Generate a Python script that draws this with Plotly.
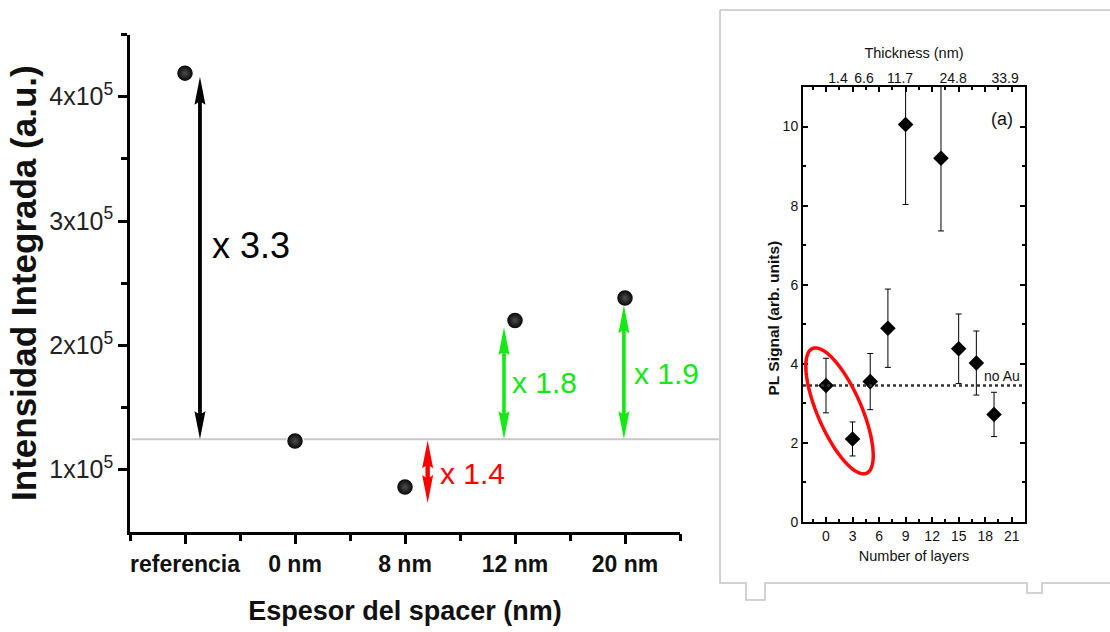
import math
import plotly.graph_objects as go

# canvas coordinates are expressed on a 1110 x 632 grid
W, H = 1110, 632
FIG_H = 640
FONT = "Liberation Sans, Arial, Helvetica, sans-serif"

# ---------------- main panel data: integrated intensity vs spacer thickness
categories = ["referencia", "0 nm", "8 nm", "12 nm", "20 nm"]
intensity = [4.19e5, 1.23e5, 0.86e5, 2.20e5, 2.38e5]
reference_level = 1.244e5
ytick_vals = [1e5, 2e5, 3e5, 4e5]
ytick_text = ["1x10<sup>5</sup>", "2x10<sup>5</sup>", "3x10<sup>5</sup>", "4x10<sup>5</sup>"]

# enhancement factors, drawn as double arrows from the reference level
ratio_text = ["x 3.3", "x 1.4", "x 1.8", "x 1.9"]
ratio_end = [4.16e5, 0.731e5, 2.148e5, 2.323e5]

# ---------------- inset data: PL signal vs number of layers
layers = [0, 3, 5, 7, 9, 13, 15, 17, 19]
pl_signal = [3.45, 2.10, 3.55, 4.90, 10.05, 9.20, 4.38, 4.02, 2.72]
pl_error = [0.69, 0.43, 0.71, 0.99, 2.02, 1.84, 0.88, 0.81, 0.56]
no_au_level = 3.45
thickness_text = ["1.4", "6.6", "11.7", "24.8", "33.9"]
thickness_at_layer = [1.36, 4.3, 8.37, 14.37, 20.25]

# ---------------- geometry (pixels from the top-left corner)
MX0, MX1, MY0, MY1 = 130, 680, 34.6, 531.7      # main plot box
IX0, IX1, IY0, IY1 = 803, 1025, 87, 522         # inset plot box
XR = [0.5, 5.5]
YR = [0.5e5, 4.5e5]
X2R = [-2.6, 22.5]
Y2R = [0, 11]


def px(x):
    return x / W


def py(y):
    return 1 - y / H


kx = (MX1 - MX0) / (XR[1] - XR[0])
ky = (MY1 - MY0) / (YR[1] - YR[0])
kx2 = (IX1 - IX0) / (X2R[1] - X2R[0])
ky2 = (IY1 - IY0) / (Y2R[1] - Y2R[0])

# arrow placement (category units) and label placement
arrow_x = [1.136, 3.206, 3.90, 4.99]
arrow_start = [reference_level, 1.236e5, reference_level, reference_level]
label_x = [1.227, 3.30, 3.955, 5.064]
label_y = [2.806e5, 0.97e5, 1.703e5, 1.776e5]
label_size = [36, 30, 30, 30]
GREEN = "#16e816"
ratio_color = ["#000000", "#ff0000", GREEN, GREEN]
shaft_hw = [1.9, 2.2, 1.8, 1.8]


def double_arrow(xc, ya, yb, shw, head_len=28, head_hw=5.5):
    top, bot = max(ya, yb), min(ya, yb)
    hl = min(head_len, (top - bot) * ky / 2) / ky
    dh, ds = head_hw / kx, shw / kx
    pts = [(xc, top), (xc + dh, top - hl), (xc + ds, top - hl * 0.92),
           (xc + ds, bot + hl * 0.92), (xc + dh, bot + hl), (xc, bot),
           (xc - dh, bot + hl), (xc - ds, bot + hl * 0.92),
           (xc - ds, top - hl * 0.92), (xc - dh, top - hl)]
    return "M" + " L".join(f"{x:.5f},{y:.1f}" for x, y in pts) + " Z"


fig = go.Figure()

shapes = []
# reference level line running across to the inset frame
shapes.append(dict(type="line", xref="paper", yref="y", x0=px(MX0 + 2), x1=px(719),
                   y0=reference_level, y1=reference_level,
                   line=dict(color="#c8c8c8", width=2), layer="below"))
for i in range(len(ratio_text)):
    shapes.append(dict(type="path", xref="x", yref="y",
                       path=double_arrow(arrow_x[i], arrow_start[i], ratio_end[i], shaft_hw[i]),
                       fillcolor=ratio_color[i], line=dict(width=0)))

fig.add_trace(go.Scatter(
    x=list(range(1, len(categories) + 1)), y=intensity, mode="markers",
    marker=dict(size=17, color="#000000", line=dict(color="white", width=1.5),
                gradient=dict(type="radial", color="#4e4e4e")),
    showlegend=False, hoverinfo="x+y"))

annotations = []
for i, t in enumerate(ratio_text):
    annotations.append(dict(x=label_x[i], y=label_y[i], xref="x", yref="y", text=t,
                            showarrow=False, xanchor="left", yanchor="middle",
                            font=dict(family=FONT, size=label_size[i], color=ratio_color[i])))

# ---------------- inset
fig.add_trace(go.Scatter(
    x=layers, y=pl_signal, xaxis="x2", yaxis="y2", mode="markers",
    marker=dict(symbol="diamond", size=12, color="#000000"),
    error_y=dict(type="data", array=pl_error, color="#000000", thickness=1, width=3),
    showlegend=False))
# empty trace so the top thickness axis is drawn
fig.add_trace(go.Scatter(x=[None], y=[None], xaxis="x3", yaxis="y2",
                         showlegend=False, hoverinfo="skip"))

shapes.append(dict(type="line", xref="x2 domain", yref="y2", x0=0, x1=1,
                   y0=no_au_level, y1=no_au_level,
                   line=dict(color="#333333", width=2.5, dash="dot")))

# highlight ellipse around the first two layer counts
ell_cx, ell_cy = 1.53, 2.81
ell_a, ell_b, ell_tilt = 68, 22, math.radians(23.4)
ell_pts = []
for k in range(73):
    t = 2 * math.pi * k / 72
    u, v = ell_b * math.cos(t), ell_a * math.sin(t)
    dx = u * math.cos(ell_tilt) - v * math.sin(ell_tilt)
    dy = u * math.sin(ell_tilt) + v * math.cos(ell_tilt)
    ell_pts.append((ell_cx + dx / kx2, ell_cy + dy / ky2))
shapes.append(dict(type="path", xref="x2", yref="y2",
                   path="M" + " L".join(f"{x:.4f},{y:.4f}" for x, y in ell_pts) + " Z",
                   line=dict(color="#ff0a0a", width=3.5)))

# light frame around the inset figure
frame = [(720, 10), (720, 583), (746, 583), (746, 600), (765, 600), (765, 583),
         (1027, 583), (1027, 593), (1042, 593), (1042, 583), (1112, 583)]
shapes.append(dict(type="path", xref="paper", yref="paper",
                   path="M" + " L".join(f"{px(x):.5f},{py(y):.5f}" for x, y in frame),
                   line=dict(color="#c4c4c4", width=1.5)))
shapes.append(dict(type="line", xref="paper", yref="paper", x0=px(720), x1=px(1112),
                   y0=py(10), y1=py(10), line=dict(color="#c4c4c4", width=1.5)))

annotations.append(dict(x=19.95, y=3.68, xref="x2", yref="y2", text="no Au", showarrow=False,
                        font=dict(family=FONT, size=14, color="#111111")))
annotations.append(dict(x=19.9, y=10.2, xref="x2", yref="y2", text="(a)", showarrow=False,
                        font=dict(family=FONT, size=18, color="#111111")))
annotations.append(dict(x=px(783), y=py(318), xref="paper", yref="paper",
                        text="PL Signal (arb. units)", textangle=-90, showarrow=False,
                        font=dict(family=FONT, size=15.5, color="#111111", weight="bold")))

fig.update_layout(
    width=W, height=FIG_H, autosize=False,
    margin=dict(l=0, r=0, t=0, b=0),
    paper_bgcolor="white", plot_bgcolor="white",
    shapes=shapes, annotations=annotations,
    xaxis=dict(domain=[px(MX0), px(MX1)], range=XR, anchor="y",
               showline=True, linecolor="black", linewidth=2.5,
               ticks="outside", ticklen=10, tickwidth=2.5, tickcolor="black",
               tickmode="array", tickvals=list(range(1, len(categories) + 1)), ticktext=categories,
               minor=dict(tickmode="array", tickvals=[0.5, 1.5, 2.5, 3.5, 4.5, 5.5],
                          ticks="outside", ticklen=7, tickwidth=2.5, tickcolor="black"),
               tickfont=dict(family=FONT, size=23, color="#111111", weight="bold"),
               showgrid=False, zeroline=False,
               title=dict(text="Espesor del spacer (nm)", standoff=26,
                          font=dict(family=FONT, size=27, color="#111111", weight="bold"))),
    yaxis=dict(domain=[py(MY1), py(MY0)], range=YR, anchor="x",
               showline=True, linecolor="black", linewidth=2.5,
               ticks="outside", ticklen=9, tickwidth=2.5, tickcolor="black",
               tickmode="array", tickvals=ytick_vals, ticktext=ytick_text,
               minor=dict(tickmode="array", tickvals=[1.5e5, 2.5e5, 3.5e5, 4.5e5],
                          ticks="outside", ticklen=6, tickwidth=2.5, tickcolor="black"),
               tickfont=dict(family=FONT, size=25, color="#222222"),
               showgrid=False, zeroline=False,
               title=dict(text="Intensidad Integrada (a.u.)", standoff=3,
                          font=dict(family=FONT, size=35, color="#111111", weight="bold"))),
    xaxis2=dict(domain=[px(IX0), px(IX1)], range=X2R, anchor="y2",
                showline=True, mirror="ticks", linecolor="black", linewidth=2,
                ticks="inside", ticklen=5, tickwidth=1.5, tickcolor="black",
                tickmode="linear", tick0=0, dtick=3,
                minor=dict(tickmode="linear", tick0=0, dtick=1.5, ticks="inside",
                           ticklen=3, tickwidth=1.5, tickcolor="black"),
                tickfont=dict(family=FONT, size=14, color="#111111"),
                showgrid=False, zeroline=False,
                title=dict(text="Number of layers", standoff=8,
                           font=dict(family=FONT, size=14.5, color="#111111"))),
    yaxis2=dict(domain=[py(IY1), py(IY0)], range=Y2R, anchor="x2",
                showline=True, mirror="ticks", linecolor="black", linewidth=2,
                ticks="inside", ticklen=5, tickwidth=1.5, tickcolor="black",
                tickmode="linear", tick0=0, dtick=2,
                minor=dict(tickmode="linear", tick0=0, dtick=1, ticks="inside",
                           ticklen=3, tickwidth=1.5, tickcolor="black"),
                tickfont=dict(family=FONT, size=14, color="#111111"),
                showgrid=False, zeroline=False),
    xaxis3=dict(overlaying="x2", side="top", anchor="y2", range=X2R,
                tickmode="array", tickvals=thickness_at_layer, ticktext=thickness_text,
                ticks="", showline=False, showgrid=False, zeroline=False,
                tickfont=dict(family=FONT, size=14, color="#111111"),
                title=dict(text="Thickness (nm)", standoff=8,
                           font=dict(family=FONT, size=14.5, color="#111111"))),
)

fig.write_html("out.html")
